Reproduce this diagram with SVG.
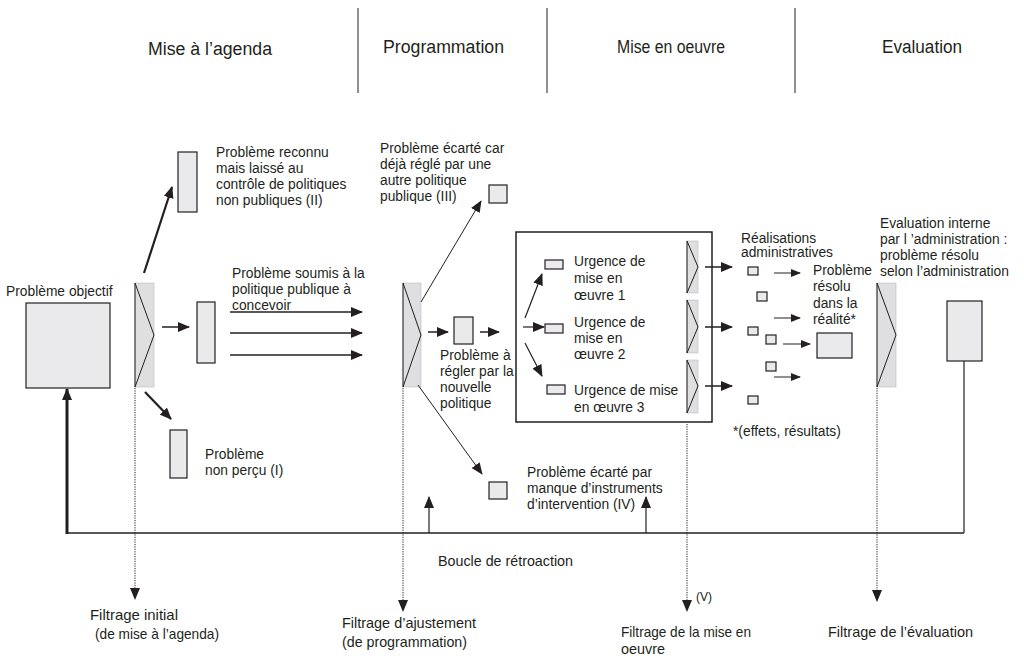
<svg xmlns="http://www.w3.org/2000/svg" width="1024" height="658" viewBox="0 0 1024 658">
<style>
.t{font-family:"Liberation Sans",Arial,sans-serif;font-size:13.8px;fill:#231f20}
.h{font-family:"Liberation Sans",Arial,sans-serif;font-size:18px;fill:#231f20}
.c{font-family:"Liberation Sans",Arial,sans-serif;font-size:15px;fill:#231f20}
.bx{fill:#eaeaec;stroke:#231f20;stroke-width:1.2}
.fr{fill:#dfdfe1;stroke:#bdbdbf;stroke-width:0.6}
.tri{fill:none;stroke:#231f20;stroke-width:1}
.ln{stroke:#231f20;fill:none}
.dot{stroke:#231f20;fill:none;stroke-width:1;stroke-dasharray:1.2 1.2}
.dv{stroke:#231f20;stroke-width:1}
</style>
<defs>
<marker id="a" viewBox="0 0 12 10" markerWidth="12" markerHeight="10" refX="11" refY="5" orient="auto" markerUnits="userSpaceOnUse"><path d="M0,0 L12,5 L0,10 z" fill="#231f20"/></marker>
<marker id="s" viewBox="0 0 10 8" markerWidth="10" markerHeight="8" refX="9" refY="4" orient="auto" markerUnits="userSpaceOnUse"><path d="M0,0 L10,4 L0,8 z" fill="#231f20"/></marker>
</defs>
<rect width="1024" height="658" fill="#fff"/>

<g id="header">
<line class="dv" x1="358" y1="8" x2="358" y2="93"/>
<line class="dv" x1="547" y1="8" x2="547" y2="93"/>
<line class="dv" x1="795" y1="8" x2="795" y2="93"/>
<text class="h" x="148" y="55" textLength="124" lengthAdjust="spacingAndGlyphs">Mise à l’agenda</text>
<text class="h" x="383" y="53" textLength="121" lengthAdjust="spacingAndGlyphs">Programmation</text>
<text class="h" x="617" y="53" textLength="108" lengthAdjust="spacingAndGlyphs">Mise en oeuvre</text>
<text class="h" x="882" y="53" textLength="80" lengthAdjust="spacingAndGlyphs">Evaluation</text>
</g>

<g id="probleme-objectif">
<text class="t" x="6" y="296">Problème objectif</text>
<rect class="bx" x="26" y="303" width="84" height="85"/>
</g>

<g id="filtre1">
<rect class="fr" x="135" y="283" width="19" height="104"/>
<polygon class="tri" points="135,283 154,335 135,387"/>
</g>

<g id="probleme-II">
<rect class="bx" x="178" y="152" width="19" height="60"/>
<text class="t" x="216" y="157">Problème reconnu</text>
<text class="t" x="216" y="173">mais laissé au</text>
<text class="t" x="216" y="189">contrôle de politiques</text>
<text class="t" x="216" y="205">non  publiques (II)</text>
</g>

<g id="probleme-soumis">
<rect class="bx" x="197" y="302" width="18" height="61"/>
<text class="t" x="232" y="278">Problème soumis à la</text>
<text class="t" x="232" y="294">politique publique à</text>
<text class="t" x="232" y="310">concevoir</text>
</g>

<g id="probleme-I">
<rect class="bx" x="170" y="430" width="17" height="48"/>
<text class="t" x="205" y="459">Problème</text>
<text class="t" x="205" y="475">non perçu (I)</text>
</g>

<g id="filtre2">
<rect class="fr" x="403" y="283" width="18" height="104"/>
<polygon class="tri" points="403,283 421,335 403,387"/>
</g>

<g id="probleme-III">
<rect class="bx" x="489" y="185" width="18" height="18"/>
<text class="t" x="380" y="153">Problème écarté car</text>
<text class="t" x="380" y="169">déjà réglé par une</text>
<text class="t" x="380" y="185">autre politique</text>
<text class="t" x="380" y="201">publique (III)</text>
</g>

<g id="probleme-a-regler">
<rect class="bx" x="454" y="317" width="19" height="27"/>
<text class="t" x="440" y="360">Problème à</text>
<text class="t" x="440" y="376">régler par la</text>
<text class="t" x="440" y="392">nouvelle</text>
<text class="t" x="440" y="408">politique</text>
</g>

<g id="probleme-IV">
<rect class="bx" x="489" y="482" width="18" height="17"/>
<text class="t" x="527" y="477">Problème écarté par</text>
<text class="t" x="527" y="493">manque d’instruments</text>
<text class="t" x="527" y="509">d’intervention (IV)</text>
</g>

<g id="mise-en-oeuvre">
<rect x="516" y="232" width="196" height="190" fill="none" stroke="#231f20" stroke-width="1.5"/>
<rect class="bx" x="545" y="260" width="18" height="9"/>
<rect class="bx" x="545" y="324" width="18" height="9"/>
<rect class="bx" x="547" y="385" width="18" height="9"/>
<text class="t" x="574" y="266">Urgence de</text>
<text class="t" x="574" y="283">mise en</text>
<text class="t" x="574" y="300">œuvre 1</text>
<text class="t" x="574" y="327">Urgence de</text>
<text class="t" x="574" y="343">mise en</text>
<text class="t" x="574" y="359">œuvre 2</text>
<text class="t" x="574" y="395">Urgence de mise</text>
<text class="t" x="574" y="412">en œuvre 3</text>
<rect class="fr" x="687" y="241" width="11" height="52"/>
<polygon class="tri" points="687,241 698,267 687,293"/>
<rect class="fr" x="687" y="300" width="11" height="53"/>
<polygon class="tri" points="687,300 698,327 687,353"/>
<rect class="fr" x="687" y="360" width="11" height="53"/>
<polygon class="tri" points="687,360 698,386 687,413"/>
</g>

<g id="realisations">
<text class="t" x="741" y="243">Réalisations</text>
<text class="t" x="741" y="257">administratives</text>
<rect class="bx" x="748" y="267" width="10" height="8"/>
<rect class="bx" x="757" y="292" width="10" height="9"/>
<rect class="bx" x="748" y="327" width="10" height="8"/>
<rect class="bx" x="766" y="335" width="10" height="9"/>
<rect class="bx" x="766" y="362" width="10" height="9"/>
<rect class="bx" x="748" y="396" width="10" height="8"/>
<text class="t" x="733" y="436">*(effets, résultats)</text>
</g>

<g id="probleme-resolu">
<text class="t" x="813" y="275">Problème</text>
<text class="t" x="813" y="291">résolu</text>
<text class="t" x="813" y="308">dans la</text>
<text class="t" x="813" y="324">réalité*</text>
<rect class="bx" x="817" y="333" width="35" height="25"/>
</g>

<g id="filtre-evaluation">
<rect class="fr" x="877" y="283" width="19" height="104"/>
<polygon class="tri" points="877,283 896,335 877,387"/>
</g>

<g id="evaluation-interne">
<text class="t" x="880" y="228">Evaluation interne</text>
<text class="t" x="880" y="244">par l ’administration :</text>
<text class="t" x="880" y="260">problème résolu</text>
<text class="t" x="880" y="276">selon l’administration</text>
<rect class="bx" x="947" y="301" width="35" height="60"/>
</g>

<g id="connectors">
<line class="ln" x1="144" y1="273" x2="172" y2="187" stroke-width="2.2" marker-end="url(#a)"/>
<line class="ln" x1="145" y1="392" x2="171" y2="419" stroke-width="2.2" marker-end="url(#a)"/>
<line class="ln" x1="162" y1="327" x2="189" y2="327" stroke-width="1.5" marker-end="url(#a)"/>
<line class="ln" x1="230" y1="312" x2="362" y2="312" stroke-width="1.3" marker-end="url(#a)"/>
<line class="ln" x1="230" y1="333" x2="362" y2="333" stroke-width="1.3" marker-end="url(#a)"/>
<line class="ln" x1="230" y1="355" x2="362" y2="355" stroke-width="1.3" marker-end="url(#a)"/>
<line class="ln" x1="421" y1="302" x2="481" y2="201" stroke-width="1" marker-end="url(#a)"/>
<line class="ln" x1="418" y1="385" x2="482" y2="474" stroke-width="1" marker-end="url(#a)"/>
<line class="ln" x1="428" y1="332" x2="448" y2="332" stroke-width="1.5" marker-end="url(#a)"/>
<line class="ln" x1="480" y1="332" x2="499" y2="332" stroke-width="1.5" marker-end="url(#a)"/>
<line class="ln" x1="525" y1="318" x2="542" y2="274" stroke-width="1.2" marker-end="url(#a)"/>
<line class="ln" x1="523" y1="327" x2="544" y2="327" stroke-width="1.2" marker-end="url(#a)"/>
<line class="ln" x1="525" y1="343" x2="542" y2="376" stroke-width="1.2" marker-end="url(#a)"/>
<line class="ln" x1="705" y1="267" x2="732" y2="267" stroke-width="1.5" marker-end="url(#a)"/>
<line class="ln" x1="705" y1="327" x2="732" y2="327" stroke-width="1.5" marker-end="url(#a)"/>
<line class="ln" x1="705" y1="386" x2="732" y2="386" stroke-width="1.5" marker-end="url(#a)"/>
<line class="ln" x1="774" y1="273" x2="800" y2="273" stroke-width="1" marker-end="url(#s)"/>
<line class="ln" x1="774" y1="318" x2="800" y2="318" stroke-width="1" marker-end="url(#s)"/>
<line class="ln" x1="783" y1="344" x2="810" y2="344" stroke-width="1" marker-end="url(#s)"/>
<line class="ln" x1="774" y1="377" x2="800" y2="377" stroke-width="1" marker-end="url(#s)"/>
<line class="ln" x1="66" y1="533" x2="964" y2="533" stroke-width="1.5"/>
<line class="ln" x1="67" y1="534" x2="67" y2="389" stroke-width="3" marker-end="url(#a)"/>
<line class="ln" x1="964" y1="361" x2="964" y2="533" stroke-width="1.2"/>
<line class="ln" x1="429" y1="533" x2="429" y2="497" stroke-width="1.2" marker-end="url(#a)"/>
<line class="ln" x1="646" y1="533" x2="646" y2="497" stroke-width="1.2" marker-end="url(#a)"/>
<line class="dot" x1="135" y1="388" x2="135" y2="599" marker-end="url(#a)"/>
<line class="dot" x1="403" y1="388" x2="403" y2="611" marker-end="url(#a)"/>
<line class="dot" x1="687" y1="424" x2="687" y2="611" marker-end="url(#a)"/>
<line class="dot" x1="877" y1="388" x2="877" y2="601" marker-end="url(#a)"/>
</g>

<g id="labels-bas">
<text class="c" x="438" y="566" textLength="135" lengthAdjust="spacingAndGlyphs">Boucle de rétroaction</text>
<text class="c" x="90" y="620" textLength="88" lengthAdjust="spacingAndGlyphs">Filtrage initial</text>
<text class="c" x="95" y="639" textLength="124" lengthAdjust="spacingAndGlyphs">(de mise à l’agenda)</text>
<text class="c" x="342" y="628" textLength="134" lengthAdjust="spacingAndGlyphs">Filtrage d’ajustement</text>
<text class="c" x="342" y="647" textLength="125" lengthAdjust="spacingAndGlyphs">(de programmation)</text>
<text class="c" x="696" y="601" style="font-size:12px" textLength="16" lengthAdjust="spacingAndGlyphs">(V)</text>
<text class="c" x="621" y="637" textLength="130" lengthAdjust="spacingAndGlyphs">Filtrage de la mise en</text>
<text class="c" x="621" y="654" textLength="44" lengthAdjust="spacingAndGlyphs">oeuvre</text>
<text class="c" x="828" y="637" textLength="145" lengthAdjust="spacingAndGlyphs">Filtrage de l’évaluation</text>
</g>
</svg>
